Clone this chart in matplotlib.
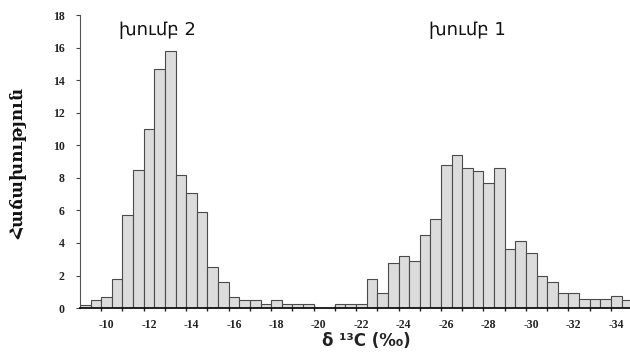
"""Histogram of d13C values for two groups (reversed x axis)."""
import matplotlib
matplotlib.use("Agg")
import matplotlib.pyplot as plt
import numpy as np

# bin centres (0.5 permil bins) and counts
bin_centres = [-9.0 - 0.5 * i for i in range(52)]
counts = [
    0.2, 0.5, 0.7, 1.8, 5.7, 8.5, 11.0, 14.7, 15.8, 8.2,
    7.1, 5.9, 2.5, 1.6, 0.7, 0.5, 0.5, 0.25, 0.5, 0.25,
    0.25, 0.25, 0.0, 0.0, 0.25, 0.25, 0.25, 1.8, 0.9, 2.8,
    3.2, 2.9, 4.5, 5.5, 8.8, 9.4, 8.6, 8.4, 7.7, 8.6,
    3.6, 4.1, 3.4, 2.0, 1.6, 0.9, 0.9, 0.55, 0.55, 0.55,
    0.75, 0.5,
]
bin_width = 0.5
xtick_vals = list(range(-10, -35, -2))
ytick_vals = list(range(0, 19, 2))
group_labels = ["խումբ 2", "խումբ 1"]
group_label_x = [-12.4, -27.0]

fig = plt.figure(figsize=(6.3, 3.62), dpi=100)
ax = fig.add_axes([0.127, 0.149, 0.873, 0.809])

ax.bar(bin_centres, counts, width=bin_width, color="#dcdcdc",
       edgecolor="#4a4a4a", linewidth=0.8, zorder=2)

ax.set_xlim(-8.75, -34.65)
ax.set_ylim(0, 18)

ax.set_xticks(xtick_vals)
ax.set_xticklabels([str(v) for v in xtick_vals], family="Liberation Serif",
                   fontsize=8.5, fontweight="bold", color="#222")
ax.set_xticks(np.arange(-9.75, -34.7, -1.0), minor=True)
ax.tick_params(axis="x", which="major", length=0, pad=8)
ax.tick_params(axis="x", which="minor", direction="inout", length=4,
               width=1.0, color="#222")

ax.set_yticks(ytick_vals)
ax.set_yticklabels([str(v) for v in ytick_vals], family="Liberation Serif",
                   fontsize=8.5, fontweight="bold", color="#222")
ax.tick_params(axis="y", length=3, width=0.8, color="#444", pad=8)

for s in ["top", "right"]:
    ax.spines[s].set_visible(False)
ax.spines["left"].set_color("#555")
ax.spines["left"].set_linewidth(0.8)
ax.spines["bottom"].set_color("#111")
ax.spines["bottom"].set_linewidth(1.3)

for lab, xv in zip(group_labels, group_label_x):
    ax.text(xv, 17.1, lab, ha="center", va="center", fontsize=13,
            family="DejaVu Sans", color="#111")

fig.text(0.030, 0.55, "Հաճախություն", rotation=90, ha="center",
         va="center", fontsize=12, fontweight="bold", family="DejaVu Serif",
         color="#111")
fig.text(0.581, 0.058, "δ ¹³C (‰)", ha="center", va="center", fontsize=12,
         fontweight="bold", family="DejaVu Sans", color="#222")

fig.savefig("out.png", dpi=100)
